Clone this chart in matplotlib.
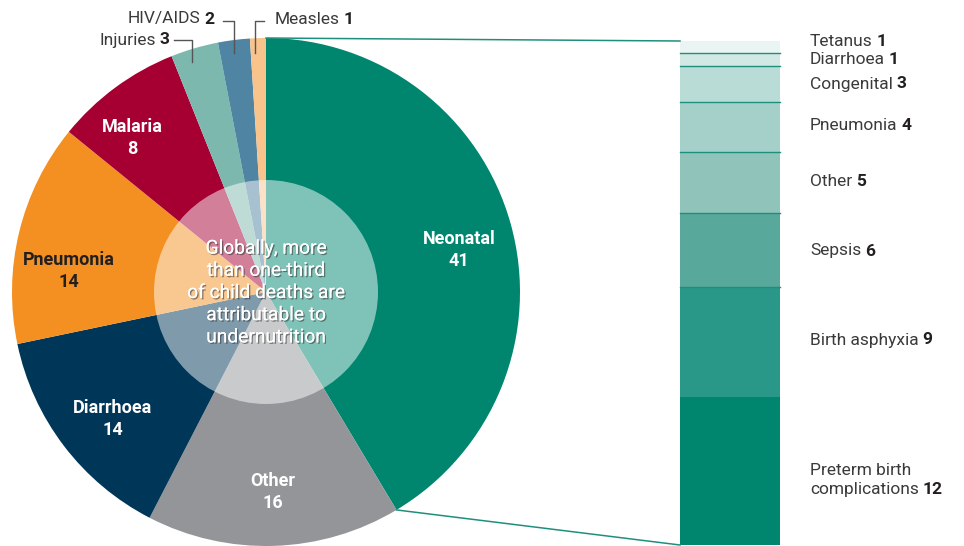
import matplotlib
matplotlib.use("Agg")
import matplotlib.pyplot as plt
import matplotlib.patheffects as pe
from matplotlib.patches import Circle
import numpy as np

plt.rcParams['font.family'] = ['Roboto', 'DejaVu Sans']

# ---- data ----
pie_labels = ["Neonatal", "Other", "Diarrhoea", "Pneumonia", "Malaria", "Injuries", "HIV/AIDS", "Measles"]
pie_values = [41, 16, 14, 14, 8, 3, 2, 1]
pie_colors = ["#00866F", "#939598", "#003658", "#F39021", "#A60033", "#7DB8AE", "#4F84A3", "#F8C48C"]

neo_labels = ["Preterm birth\ncomplications", "Birth asphyxia", "Sepsis", "Other", "Pneumonia",
              "Congenital", "Diarrhoea", "Tetanus"]
neo_values = [12, 9, 6, 5, 4, 3, 1, 1]
neo_colors = ["#00866F", "#2A9889", "#58A89B", "#90C4BB", "#A5D0C9", "#BADCD6", "#D2E8E4", "#EAF4F2"]

center_text = "Globally, more\nthan one-third\nof child deaths are\nattributable to\nundernutrition"

# ---- layout ----
W, H = 964, 546
fig = plt.figure(figsize=(W / 100, H / 100), dpi=100)
ax = fig.add_axes([0, 0, 1, 1])

def Y(y):
    return H - y

cx, cy, R = 266, Y(292), 254
ax.pie(pie_values, colors=pie_colors, startangle=90, counterclock=False,
       center=(cx, cy), radius=R, wedgeprops={'linewidth': 0})

# translucent centre circle
ax.add_patch(Circle((cx, cy), 112, facecolor='white', alpha=0.5, linewidth=0, zorder=3))
ax.text(cx, Y(293), center_text, ha='center', va='center', multialignment='center',
        color='white', fontsize=13.8, linespacing=1.3, zorder=4,
        path_effects=[pe.withSimplePatchShadow(offset=(1, -1), shadow_rgbFace='#333333', alpha=0.55),
                      pe.Normal()])

# in-slice labels
inside = {
    "Neonatal": ((459, 250), 'white'),
    "Other": ((273, 492), 'white'),
    "Diarrhoea": ((113, 419), 'white'),
    "Pneumonia": ((69, 271), '#231F20'),
    "Malaria": ((132, 138), 'white'),
}
for lab, val in zip(pie_labels, pie_values):
    if lab in inside:
        (x, y), col = inside[lab]
        ax.text(x, Y(y), f"{lab}\n{val}", ha='center', va='center', multialignment='center',
                color=col, fontsize=13, fontweight='bold', linespacing=1.3, zorder=5)

# outside labels with leaders
txtcol = '#3a3a3a'
leader_col = '#555555'
FS = 12.5
GAP = 2.6
out_pos = {
    "Injuries": (169, 40, 'right', [(174, 40), (192, 40), (192, 62)]),
    "HIV/AIDS": (214, 19, 'right', [(223, 21), (234, 21), (234, 53)]),
    "Measles": (275, 19, 'left', [(264, 21), (255, 21), (255, 53)]),
}

def two_part(x, y, name, val, ha):
    if ha == 'left':
        t1 = ax.text(x, Y(y), name, ha='left', va='center', fontsize=FS, color=txtcol, zorder=5)
        ax.annotate(str(val), xy=(1, 0), xycoords=t1, xytext=(GAP, 0), textcoords='offset points',
                    ha='left', va='bottom', fontsize=FS, fontweight='bold', color='#231F20', zorder=5)
    else:
        t2 = ax.text(x, Y(y), str(val), ha='right', va='center', fontsize=FS, fontweight='bold',
                     color='#231F20', zorder=5)
        ax.annotate(name, xy=(0, 0), xycoords=t2, xytext=(-GAP, 0), textcoords='offset points',
                    ha='right', va='bottom', fontsize=FS, color=txtcol, zorder=5)

for lab, val in zip(pie_labels, pie_values):
    if lab in out_pos:
        x, y, ha, pts = out_pos[lab]
        two_part(x, y, lab, val, ha)
        ax.plot([p[0] for p in pts], [Y(p[1]) for p in pts], color=leader_col, lw=1, zorder=5)

# stacked bar of neonatal causes
bar_x0, bar_w = 680, 100
bar_bottom = Y(545)
scale = (545 - 41) / sum(neo_values)
bottoms = np.concatenate([[0], np.cumsum(neo_values)[:-1]])
ax.bar([bar_x0 + bar_w / 2] * len(neo_values), np.array(neo_values) * scale, width=bar_w,
       bottom=bar_bottom + bottoms * scale, color=neo_colors, linewidth=0, zorder=2)
for b in bottoms[2:]:
    ax.plot([bar_x0, bar_x0 + bar_w], [bar_bottom + b * scale] * 2, color='#1F8F7D', lw=1, zorder=3)

label_y = [480, 340, 251, 182, 126, 84, 59, 42]
for lab, val, yy in zip(neo_labels, neo_values, label_y):
    t1 = ax.text(810, Y(yy), lab, ha='left', va='center', fontsize=FS, color=txtcol,
                 linespacing=1.35, zorder=5)
    ax.annotate(str(val), xy=(1, 0), xycoords=t1, xytext=(GAP, 0), textcoords='offset points',
                ha='left', va='bottom', fontsize=FS, fontweight='bold', color='#231F20', zorder=5)

# connector lines
theta = np.deg2rad(90 - 360 * pie_values[0] / sum(pie_values))
ex, ey = cx + R * np.cos(theta), cy + R * np.sin(theta)
con_col = '#1F8F7D'
ax.plot([cx, bar_x0], [cy + R, bar_bottom + sum(neo_values) * scale], color=con_col, lw=1.1, zorder=4)
ax.plot([ex, bar_x0], [ey, bar_bottom], color=con_col, lw=1.1, zorder=4)

ax.set_xlim(0, W)
ax.set_ylim(0, H)
ax.set_aspect('auto')
ax.axis('off')

fig.savefig("out.png", dpi=100)
